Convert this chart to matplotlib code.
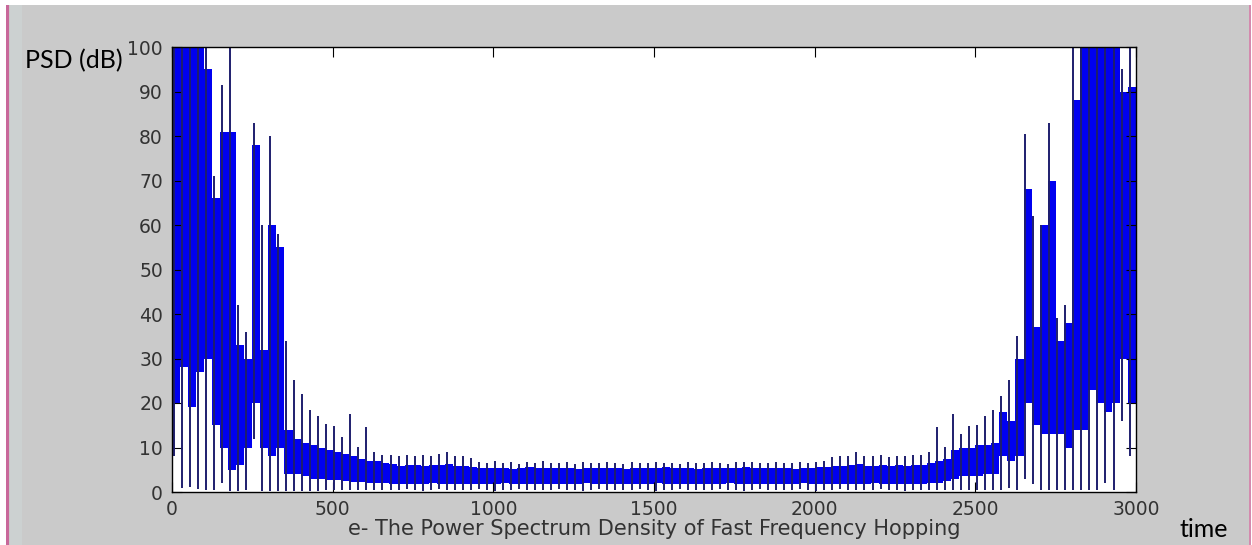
import numpy as np
import matplotlib
matplotlib.use('Agg')
import matplotlib.pyplot as plt
from matplotlib.patches import Rectangle

# spectrum in 25-unit columns:
# blue band (lo/hi) and the dark spike line (bot/top) of every column
col_step = 25

# left cluster, columns 0..26 (0-675)
left_lo = [20, 28, 19, 27, 30, 15, 10, 5, 6, 10,
           20, 10, 8, 10, 4, 4, 3.5, 3, 3, 2.8,
           2.6, 2.5, 2.3, 2.2, 2.1, 2, 2]
left_hi = [100, 100, 100, 100, 95, 66, 81, 81, 33, 30,
           78, 32, 60, 55, 14, 12, 11, 10.5, 10, 9.5,
           9, 8.5, 8, 7.5, 7, 7, 6.5]
left_top = [100, 100, 100, 100, 100, 71, 91.5, 100, 42, 36,
            83, 60, 80, 58, 34, 25.2, 22, 18.4, 17.1, 15.2,
            14.9, 12.4, 17.5, 10.2, 14.7, 9, 8.3]
left_bot = [8, 1, 1.2, 0.6, 0.5, 0.4, 2, 0.3, 0.3, 0.5,
            12, 0.3, 0.3, 0.3, 0.3, 0.3, 0.3, 0.3, 0.3, 0.4,
            0.4, 0.4, 0.5, 0.5, 0.5, 0.5, 0.5]

# flat middle, columns 27..92 (675-2325)
mid_lo = [1.9, 1.8, 1.7, 1.9, 1.8, 2.0, 1.8, 1.7, 1.9, 1.8,
          1.8, 1.9, 1.7, 1.8, 2.0, 1.8, 1.7, 1.9, 1.8, 1.8,
          1.7, 1.9, 1.8, 1.8, 2.0, 1.7, 1.8, 1.9, 1.8, 1.7,
          1.9, 1.8, 1.8, 2.0, 1.7, 1.8, 1.9, 1.8, 1.7, 1.9,
          1.8, 1.8, 2.0, 1.7, 1.8, 1.9, 1.8, 1.7, 1.9, 1.8,
          1.8, 2.0, 1.7, 1.8, 1.9, 1.8, 1.7, 1.9, 1.8, 1.8,
          2.0, 1.7, 1.8, 1.9, 1.8, 1.8]
mid_hi = [6.2, 5.9, 6.1, 6.0, 5.8, 6.1, 6.0, 6.3, 5.9, 5.8,
          5.6, 5.5, 5.3, 5.4, 5.5, 5.2, 5.4, 5.6, 5.3, 5.4,
          5.5, 5.3, 5.4, 5.2, 5.5, 5.4, 5.3, 5.5, 5.4, 5.2,
          5.4, 5.5, 5.3, 5.4, 5.6, 5.3, 5.4, 5.5, 5.2, 5.4,
          5.3, 5.5, 5.4, 5.3, 5.6, 5.5, 5.4, 5.3, 5.5, 5.4,
          5.2, 5.4, 5.5, 5.6, 5.7, 5.8, 5.9, 6.0, 6.2, 5.9,
          5.8, 6.0, 5.9, 6.1, 5.8, 6.0]
mid_top = [8.3, 8.0, 8.4, 8.1, 8.3, 8.2, 8.5, 8.9, 8.0, 8.2,
           7.6, 6.8, 6.5, 6.9, 6.6, 6.7, 6.4, 6.8, 6.6, 6.9,
           6.5, 6.6, 6.8, 6.4, 6.7, 6.6, 6.5, 6.8, 6.6, 6.4,
           6.7, 6.5, 6.6, 6.8, 6.5, 6.6, 6.4, 6.7, 6.6, 6.5,
           6.8, 6.6, 6.4, 6.7, 6.8, 6.8, 6.6, 6.5, 6.7, 6.6,
           6.5, 6.8, 6.6, 6.7, 7.0, 7.8, 8.0, 8.2, 8.9, 8.1,
           8.0, 8.3, 7.9, 8.2, 8.0, 8.3]
mid_bot = [0.5, 0.4, 0.6, 0.5, 0.3, 0.5, 0.6, 0.4, 0.5, 0.5,
           0.4, 0.6, 0.5, 0.3, 0.5, 0.4, 0.6, 0.5, 0.5, 0.4,
           0.5, 0.6, 0.4, 0.5, 0.3, 0.5, 0.6, 0.4, 0.5, 0.5,
           0.4, 0.6, 0.5, 0.3, 0.5, 0.4, 0.6, 0.5, 0.5, 0.4,
           0.5, 0.6, 0.4, 0.5, 0.3, 0.5, 0.6, 0.4, 0.5, 0.5,
           0.4, 0.6, 0.5, 0.3, 0.5, 0.4, 0.6, 0.5, 0.5, 0.4,
           0.5, 0.6, 0.4, 0.5, 0.3, 0.5]

# right cluster, columns 93..119 (2325-3000)
right_lo = [1.8, 2, 2, 2.5, 3, 3.5, 3.5, 3.5, 4, 4,
            8, 7, 8, 20, 15, 13, 13, 13, 10, 14,
            14, 23, 20, 18, 20, 30, 20]
right_hi = [6, 6.5, 7, 7.5, 9.5, 10, 10, 10.5, 10.5, 11,
            18, 16, 30, 68, 37, 60, 70, 34, 38, 88,
            100, 100, 100, 100, 100, 90, 91]
right_top = [8.3, 9, 14.7, 10.2, 17.5, 13, 14.9, 15.1, 17.1, 18.4,
             21.6, 25.2, 35, 80.4, 62, 60, 83, 39, 42, 100,
             100, 100, 100, 100, 100, 95, 100]
right_bot = [0.5, 0.5, 0.5, 0.5, 0.4, 0.4, 0.4, 0.4, 0.4, 0.4,
             0.4, 1, 0.5, 3, 1.9, 0.4, 0.4, 0.4, 0.4, 0.4,
             0.4, 0.4, 0.4, 2, 0.4, 16, 8]

x_ticks = [0, 500, 1000, 1500, 2000, 2500, 3000]
y_ticks = [0, 10, 20, 30, 40, 50, 60, 70, 80, 90, 100]

band_lo = np.array(left_lo + mid_lo + right_lo, dtype=float)
band_hi = np.array(left_hi + mid_hi + right_hi, dtype=float)
spike_top = np.array(left_top + mid_top + right_top, dtype=float)
spike_bot = np.array(left_bot + mid_bot + right_bot, dtype=float)
assert len(band_lo) == len(band_hi) == len(spike_top) == len(spike_bot) == 120
col_x = np.arange(len(band_lo)) * col_step

W, H = 1252, 545
fig = plt.figure(figsize=(W / 100, H / 100), dpi=100, facecolor='white')

# page background: grey panel with pink margin lines
fig.add_artist(Rectangle((9 / W, 0), (1249 - 9) / W, (H - 5) / H, transform=fig.transFigure,
                         facecolor='#cacaca', edgecolor='none', zorder=0))
fig.add_artist(Rectangle((10 / W, 0), 12 / W, (H - 5) / H, transform=fig.transFigure,
                         facecolor='#ccd1d1', edgecolor='none', zorder=0))
fig.add_artist(Rectangle((6 / W, 0), 3 / W, (H - 5) / H, transform=fig.transFigure,
                         facecolor='#c8689a', edgecolor='none', zorder=0))
fig.add_artist(Rectangle((1249 / W, 0), 2 / W, (H - 5) / H, transform=fig.transFigure,
                         facecolor='#d48aae', edgecolor='none', zorder=0))

ax = fig.add_axes([172 / W, 53 / H, 964 / W, 445 / H])
ax.set_facecolor('white')

edges = np.append(col_x, 3000)
ax.fill_between(edges, np.append(band_lo, band_lo[-1]), np.append(band_hi, band_hi[-1]),
                step='post', color='#0000f0', lw=0)
ax.vlines(col_x + 5, spike_bot, spike_top, color='#1e1e6e', lw=1.4)

ax.set_xlim(0, 3000)
ax.set_ylim(0, 100)
ax.set_xticks(x_ticks)
ax.set_yticks(y_ticks)
ax.tick_params(direction='in', length=7, width=0.8, top=True, right=True,
               labelsize=13.5, labelcolor='#333333')
ax.tick_params(axis='y', pad=6.5)
ax.tick_params(axis='x', pad=5.5)
for s in ax.spines.values():
    s.set_linewidth(1.0)
    s.set_color('black')

ax.set_xlabel('e- The Power Spectrum Density of Fast Frequency Hopping',
              fontsize=15, color='#333333', va='baseline')
ax.xaxis.set_label_coords(0.5, -(535 - 492) / 445)

fig.text(25 / W, 1 - 68 / H, 'PSD (dB)', fontfamily='Lato', fontsize=18,
         va='baseline', ha='left', color='black')
fig.text(1180 / W, 1 - 537 / H, 'time', fontfamily='Lato', fontsize=18,
         va='baseline', ha='left', color='black')

fig.savefig('out.png', dpi=100, facecolor=fig.get_facecolor())
